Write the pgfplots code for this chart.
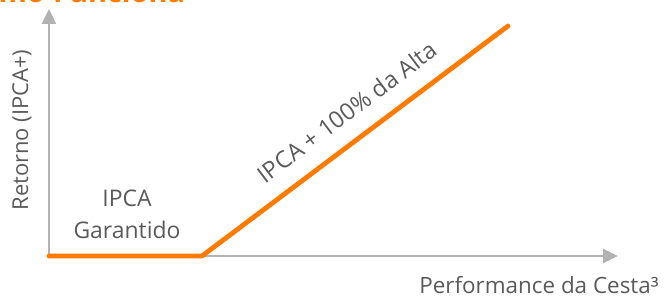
\documentclass[border=0pt]{standalone}
\usepackage{fontspec}
\setmainfont{Open Sans}
\usepackage{pgfplots}
\pgfplotsset{compat=1.18}
\usetikzlibrary{arrows.meta}
\definecolor{itauorange}{RGB}{255,122,0}
\definecolor{axisgray}{RGB}{178,178,178}
\definecolor{txtgray}{RGB}{90,90,90}
\begin{document}
\begin{tikzpicture}
\useasboundingbox (0bp,0bp) rectangle (665bp,299bp);
% title (cut at top of picture)
\node[anchor=base west, inner sep=0pt, text=itauorange, font=\fontsize{29}{34}\selectfont\bfseries] at (53bp,296.5bp) {Funciona};
\node[anchor=base east, inner sep=0pt, text=itauorange, font=\fontsize{29}{34}\selectfont\bfseries] at (45bp,296.5bp) {Como};
\begin{axis}[
  at={(49bp,43bp)}, anchor=south west,
  scale only axis, width=569bp, height=247bp,
  xmin=0, xmax=569, ymin=0, ymax=247,
  axis x line=bottom, axis y line=left,
  axis line style={draw=axisgray, line width=2.4bp},
  x axis line style={-{Triangle[length=15bp,width=14bp]}},
  y axis line style={-{Triangle[length=15bp,width=14bp]}},
  xtick=\empty, ytick=\empty,
  clip=false,
]
\addplot[itauorange, line width=4.8bp, line cap=round, line join=round] coordinates {(0,0) (153,0) (459,230)};
\end{axis}
\begin{scope}[every node/.style={text=txtgray, inner sep=0pt}]
\node[rotate=90, font=\fontsize{22}{26}\selectfont] at (22bp,169bp) {Retorno (IPCA+)};
\node[font=\fontsize{23}{27}\selectfont] at (127bp,101bp) {IPCA};
\node[font=\fontsize{23}{27}\selectfont] at (127bp,69bp) {Garantido};
\node[font=\fontsize{22.5}{27}\selectfont] at (539bp,14bp) {Performance da Cesta³};
\node[rotate=37, font=\fontsize{23.5}{28}\selectfont] at (347bp,187bp) {IPCA + 100\% da Alta};
\end{scope}
\end{tikzpicture}
\end{document}
